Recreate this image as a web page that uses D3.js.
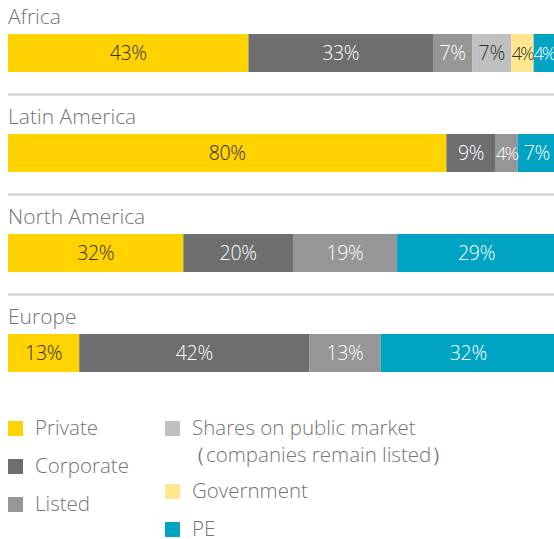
<!DOCTYPE html>
<html>
<head>
<meta charset="utf-8">
<title>Deal types by region</title>
<script src="https://cdn.jsdelivr.net/npm/d3@7"></script>
<style>
  body { margin: 0; background: #fff; }
  text { font-family: "Open Sans", sans-serif; font-weight: 300; }
</style>
</head>
<body>
<div id="chart"></div>
<script>
// data
var regions = ["Africa", "Latin America", "North America", "Europe"];
var categories = ["Private", "Corporate", "Listed", "Shares", "Government", "PE"];
var legendLabels = [["Private"], ["Corporate"], ["Listed"],
  ["Shares on public market", "\uFF08companies remain listed\uFF09"], ["Government"], ["PE"]];
var africa = [43, 33, 7, 7, 4, 4];
var latinAmerica = [80, 9, 4, 0, 0, 7];
var northAmerica = [32, 20, 19, 0, 0, 29];
var europe = [13, 42, 13, 0, 0, 32];
var colors = ["#ffd200", "#6e6e71", "#969698", "#c0c0c2", "#ffe68f", "#00a4c2"];
var labelColors = ["#2e2e2e", "#fff", "#fff", "#2e2e2e", "#2e2e2e", "#fff"];

var values = [africa, latinAmerica, northAmerica, europe];

var w = 554, h = 539;
var svg = d3.select("#chart").append("svg")
  .attr("width", w).attr("height", h);

// each row gets 100px, label on top, bar below
var y = d3.scaleBand().domain(regions).range([0, 400]);

regions.forEach(function(r, i) {
  var vals = values[i];
  var total = d3.sum(vals);
  var x = d3.scaleLinear().domain([0, total]).range([8, 556]);
  var g = svg.append("g").attr("transform", "translate(0," + y(r) + ")");

  g.append("text")
    .attr("x", 8).attr("y", 24)
    .attr("fill", "#747476")
    .style("font-size", "21px")
    .text(r);

  var segs = [];
  var acc = 0;
  vals.forEach(function(v, k) {
    if (v > 0) segs.push({ k: k, v: v, x0: acc, x1: acc + v });
    acc += v;
  });

  g.selectAll("rect").data(segs).enter().append("rect")
    .attr("x", function(d) { return x(d.x0); })
    .attr("width", function(d) { return x(d.x1) - x(d.x0); })
    .attr("y", 34).attr("height", 38)
    .attr("fill", function(d) { return colors[d.k]; });

  g.selectAll(".val").data(segs).enter().append("text")
    .attr("class", "val")
    .attr("x", function(d) { return Math.min((x(d.x0) + x(d.x1)) / 2, 544); })
    .attr("y", 60)
    .attr("text-anchor", "middle")
    .attr("fill", function(d) { return labelColors[d.k]; })
    .style("font-size", function(d) { return d.v < 5 ? "18px" : "19.5px"; })
    .style("letter-spacing", function(d) { return d.v < 5 ? "-1.8px" : "-0.3px"; })
    .text(function(d) { return d.v + "%"; });

  if (i < regions.length - 1) {
    g.append("line")
      .attr("x1", 8).attr("x2", 554)
      .attr("y1", 94.5).attr("y2", 94.5)
      .attr("stroke", "#cfcfcf").attr("stroke-width", 2);
  }
});

// legend
var legendPos = [[8, 428], [8, 466], [8, 504], [165, 428], [165, 491], [165, 529]];
var lg = svg.selectAll(".leg").data(categories).enter().append("g")
  .attr("class", "leg")
  .attr("transform", function(d, i) { return "translate(" + legendPos[i][0] + "," + legendPos[i][1] + ")"; });

lg.append("rect")
  .attr("x", 0).attr("y", -7).attr("width", 15).attr("height", 15)
  .attr("fill", function(d, i) { return colors[i]; });

lg.append("text")
  .attr("x", 27).attr("y", 7)
  .attr("fill", "#747476")
  .style("font-size", "20.5px")
  .each(function(d, i) {
    var t = d3.select(this);
    legendLabels[i].forEach(function(line, j) {
      t.append("tspan").attr("x", j ? 20 : 27).attr("dy", j ? 27 : 0).text(line);
    });
  });
</script>
</body>
</html>
